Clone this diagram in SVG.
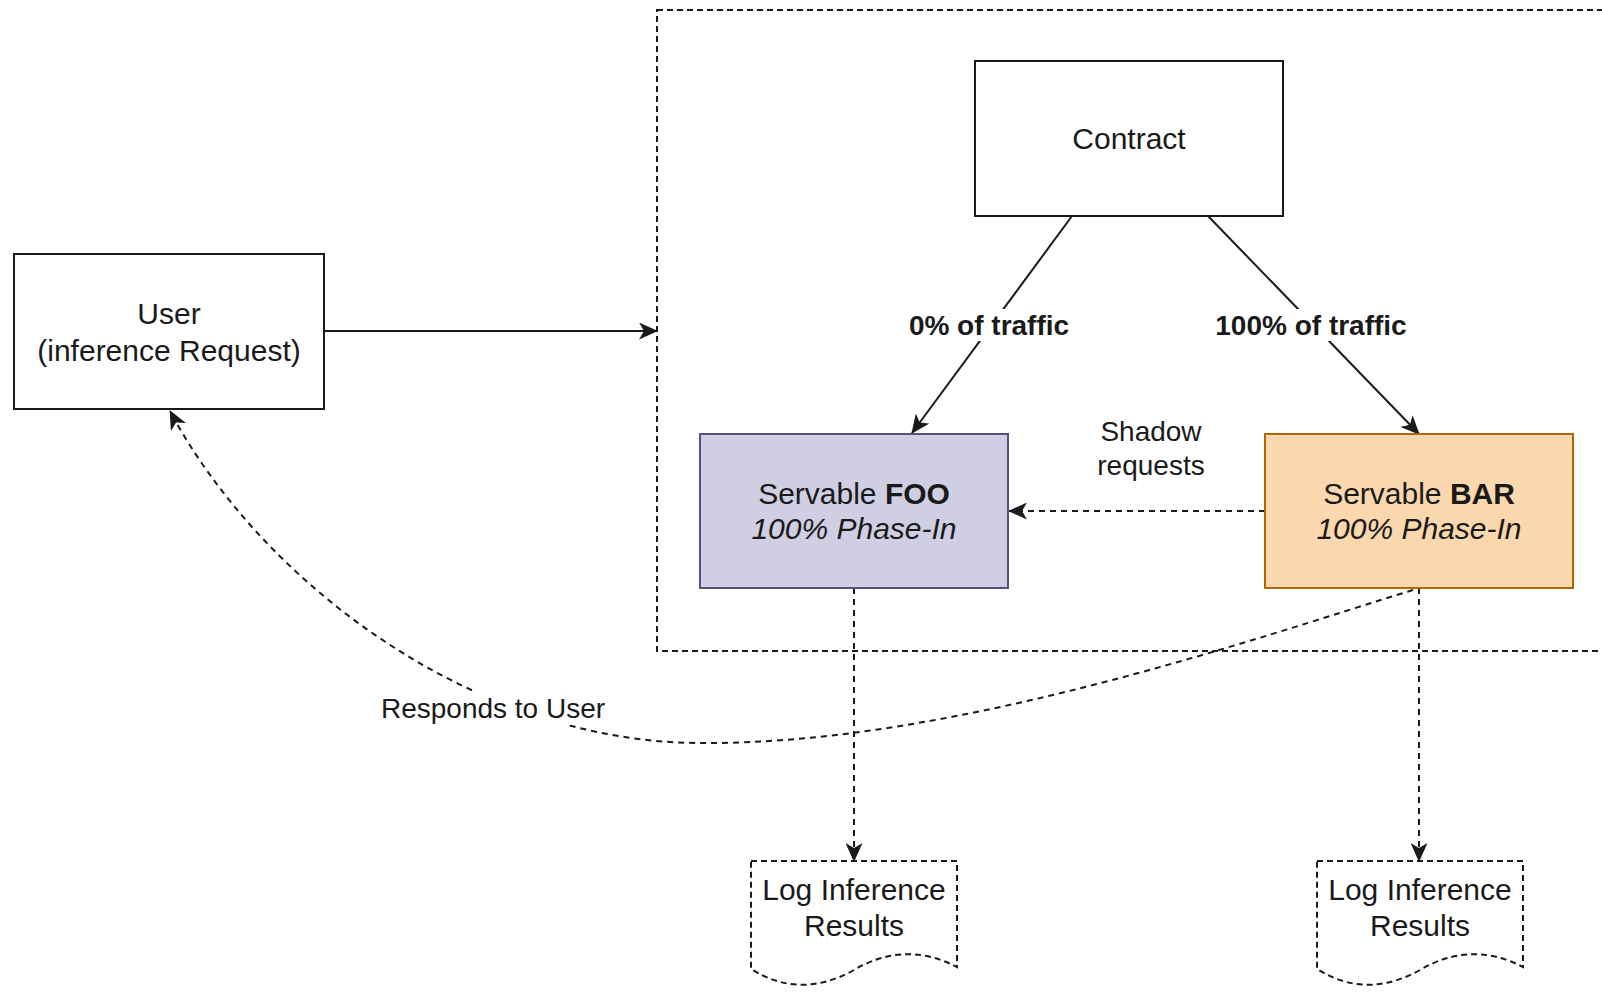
<svg xmlns="http://www.w3.org/2000/svg" width="1602" height="993" viewBox="0 0 1602 993">
<defs>
<style>
.t{font-family:"Liberation Sans",Arial,sans-serif;font-size:30px;fill:#1a1a1a;text-anchor:middle}
.l{font-family:"Liberation Sans",Arial,sans-serif;font-size:28px;fill:#1a1a1a;text-anchor:middle}
.b{font-weight:bold}
.i{font-style:italic}
.box{fill:#fff;stroke:#1a1a1a;stroke-width:2}
.edge{fill:none;stroke:#1a1a1a;stroke-width:2}
.dash{stroke-dasharray:6 5}
.bg{fill:#fff}
</style>
<marker id="arr" markerUnits="userSpaceOnUse" markerWidth="19" markerHeight="17" viewBox="0 0 19 17" refX="18" refY="8.5" orient="auto">
<path d="M0,0 L19,8.5 L0,17 L5,8.5 Z" fill="#1a1a1a"/>
</marker>
</defs>

<g id="container">
<rect x="657" y="10" width="980" height="641" fill="none" stroke="#1a1a1a" stroke-width="2" stroke-dasharray="6 4"/>
</g>

<g id="connectors">
<line class="edge" x1="324" y1="331" x2="657" y2="331" marker-end="url(#arr)"/>
<line class="edge" x1="1072" y1="216" x2="912" y2="433" marker-end="url(#arr)"/>
<line class="edge" x1="1208" y1="216" x2="1419" y2="434" marker-end="url(#arr)"/>
<line class="edge dash" x1="1265" y1="511" x2="1009" y2="511" marker-end="url(#arr)"/>
<line class="edge dash" x1="854" y1="588" x2="854" y2="861" marker-end="url(#arr)"/>
<line class="edge dash" x1="1419" y1="588" x2="1419" y2="861" marker-end="url(#arr)"/>
<path class="edge dash" d="M1413,590 C1250,640 950,745 700,743 C470,742 260,580 170,411" marker-end="url(#arr)"/>
<rect class="bg" x="908" y="309" width="162" height="32"/>
<text class="l b" x="989" y="335">0% of traffic</text>
<rect class="bg" x="1214" y="309" width="194" height="32"/>
<text class="l b" x="1311" y="335">100% of traffic</text>
<text class="l" x="1151" y="441">Shadow</text>
<text class="l" x="1151" y="475">requests</text>
<rect class="bg" x="378" y="691" width="231" height="34"/>
<text class="l" x="493" y="718">Responds to User</text>
</g>

<g id="user">
<rect class="box" x="14" y="254" width="310" height="155" stroke="#333"/>
<text class="t" x="169" y="324">User</text>
<text class="t" x="169" y="361">(inference Request)</text>
</g>

<g id="contract">
<rect class="box" x="975" y="61" width="308" height="155"/>
<text class="t" x="1129" y="149">Contract</text>
</g>

<g id="foo">
<rect x="700" y="434" width="308" height="154" fill="#d0cee2" stroke="#56517e" stroke-width="2"/>
<text class="t" x="854" y="504">Servable <tspan class="b">FOO</tspan></text>
<text class="t i" x="854" y="539">100% Phase-In</text>
</g>

<g id="bar">
<rect x="1265" y="434" width="308" height="154" fill="#fad7ac" stroke="#b46504" stroke-width="2"/>
<text class="t" x="1419" y="504">Servable <tspan class="b">BAR</tspan></text>
<text class="t i" x="1419" y="539">100% Phase-In</text>
</g>

<g id="log-foo">
<path d="M751,861 H957 V967 Q905,940 854,970 Q800,1000 751,969 Z" fill="#fff" stroke="#1a1a1a" stroke-width="2" stroke-dasharray="6 4"/>
<text class="t" x="854" y="900">Log Inference</text>
<text class="t" x="854" y="936">Results</text>
</g>

<g id="log-bar">
<path d="M1317,861 H1523 V967 Q1471,940 1420,970 Q1366,1000 1317,969 Z" fill="#fff" stroke="#1a1a1a" stroke-width="2" stroke-dasharray="6 4"/>
<text class="t" x="1420" y="900">Log Inference</text>
<text class="t" x="1420" y="936">Results</text>
</g>
</svg>
